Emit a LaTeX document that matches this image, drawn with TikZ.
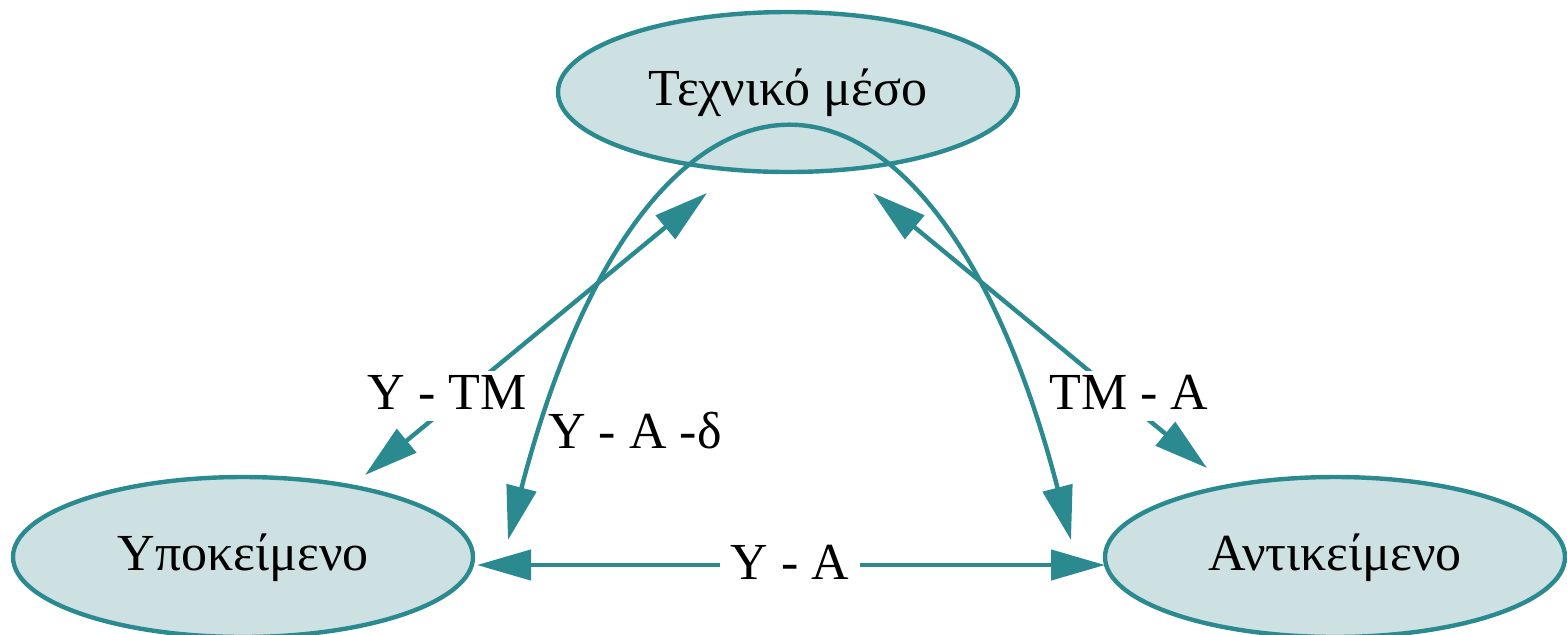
\documentclass[tikz,border=0pt]{standalone}
\usepackage{fontspec}
\setmainfont{Liberation Serif}
\usetikzlibrary{shapes.geometric,arrows.meta}
\definecolor{edgeteal}{RGB}{42,138,143}
\definecolor{nodefill}{RGB}{205,224,226}
\begin{document}
\begin{tikzpicture}[x=0.5pt,y=-0.5pt,
  every node/.style={font=\fontsize{26}{30}\selectfont, text height=19pt, text depth=6pt},
  ent/.style={ellipse, draw=edgeteal, fill=nodefill, line width=2.2pt, minimum width=230pt, minimum height=80pt, inner sep=0pt},
  rel/.style={draw=edgeteal, line width=2.2pt, {Triangle[length=27pt,width=15pt]}-{Triangle[length=27pt,width=15pt]}},
  lbl/.style={fill=white, inner sep=0pt},
]
\useasboundingbox (0,0) rectangle (1567,634);
\node[ent] (TM) at (788,92) {Τεχνικό μέσο};
\node[ent] (Y) at (243,557) {Υποκείμενο};
\node[ent] (A) at (1335,557) {Αντικείμενο};

% Y - TM
\draw[rel] ([shift={(122,-82)}]Y.center) -- ([shift={(-81,101)}]TM.center);
\node[lbl] (lYTM) at (447,396) {Y - TM};

% TM - A
\draw[rel] ([shift={(85,101)}]TM.center) -- ([shift={(-128,-89)}]A.center);
\node[lbl] (lTMA) at (1129,396) {TM - A};

% Y - A - delta (arc through TM)
\draw[rel] ([shift={(265,-17)}]Y.center) .. controls (647,3.3) and (932,3.3) .. ([shift={(-264,-17)}]A.center);
\node[inner sep=0pt] (lYAd) at (635,435) {Y - A -δ};

% Y - A
\draw[rel] ([shift={(234,8)}]Y.center) -- ([shift={(-230,8)}]A.center);
\node[lbl, inner xsep=5.5pt] (lYA) at (790,566) {Y - A};
\end{tikzpicture}
\end{document}
